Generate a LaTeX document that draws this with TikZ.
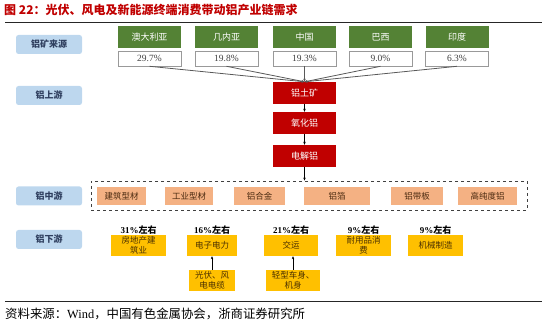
\documentclass[tikz,border=0pt]{standalone}
\usepackage{fontspec}
\setmainfont{Liberation Serif}
\newfontfamily\cjk{Noto Sans CJK SC}
\usetikzlibrary{arrows.meta}
\definecolor{mygreen}{HTML}{548235}
\definecolor{myred}{HTML}{C00000}
\definecolor{labblue}{HTML}{BDD7EE}
\definecolor{labtext}{HTML}{2F3F5F}
\definecolor{myorange}{HTML}{F4B183}
\definecolor{orgtext}{HTML}{4A2A10}
\definecolor{myyellow}{HTML}{FFC000}
\definecolor{yeltext}{HTML}{4A3000}
\definecolor{titlered}{HTML}{C00000}
\tikzset{
  lab/.style={fill=labblue, rounded corners=2.5pt, minimum width=66pt, minimum height=19pt, inner sep=0pt, text=labtext, font=\cjk\bfseries\fontsize{9}{10}\selectfont},
  gbox/.style={fill=mygreen, minimum width=63pt, minimum height=22pt, inner sep=0pt, text=white, font=\cjk\fontsize{9}{10}\selectfont},
  pbox/.style={draw=black!40, line width=0.6pt, fill=white, minimum width=63pt, minimum height=15pt, inner sep=0pt, text=black!75, font=\fontsize{9.5}{10}\selectfont},
  rbox/.style={fill=myred, minimum width=63pt, minimum height=22pt, inner sep=0pt, text=white, font=\cjk\fontsize{9}{10}\selectfont},
  obox/.style={fill=myorange, minimum height=18pt, inner sep=0pt, text=orgtext, font=\cjk\fontsize{8.5}{10}\selectfont},
  ybox/.style={fill=myyellow, minimum height=21pt, inner sep=0pt, align=center, text=yeltext, font=\cjk\fontsize{8.5}{10}\selectfont},
  pct/.style={inner sep=0pt, text=black, font=\bfseries\fontsize{9}{10}\selectfont},
  conn/.style={draw=black!65, line width=0.8pt, -{Stealth[length=3pt,width=2.5pt]}},
  arr/.style={draw=black, line width=0.6pt, -{Stealth[length=3pt,width=2.5pt]}},
  rule/.style={draw=black!85, line width=0.9pt}
}
\begin{document}
\begin{tikzpicture}[x=1pt,y=-1pt]
\useasboundingbox (0,0) rectangle (550,328);
% title
\node[anchor=west, inner sep=0pt, text=titlered, font=\cjk\bfseries\fontsize{12}{12}\selectfont] (title) at (4,10) {图\ 22：光伏、风电及新能源终端消费带动铝产业链需求};
\coordinate (hl) at (5,22); \coordinate (hr) at (542,22);
\draw[rule] (hl) -- (hr);
% left labels
\node[lab] (l1) at (49,44.5) {铝矿来源};
\node[lab] (l2) at (49,95.5) {铝上游};
\node[lab] (l3) at (49,196) {铝中游};
\node[lab] (l4) at (49,239.5) {铝下游};
% sources
\node[gbox] (g1) at (149.5,37) {澳大利亚};
\node[gbox] (g2) at (226.5,37) {几内亚};
\node[gbox] (g3) at (304.5,37) {中国};
\node[gbox] (g4) at (380.5,37) {巴西};
\node[gbox] (g5) at (457,37) {印度};
\node[pbox] (p1) at (149.5,58.5) {29.7\%};
\node[pbox] (p2) at (226.5,58.5) {19.8\%};
\node[pbox] (p3) at (304.5,58.5) {19.3\%};
\node[pbox] (p4) at (380.5,58.5) {9.0\%};
\node[pbox] (p5) at (457,58.5) {6.3\%};
% upstream
\node[rbox] (r1) at (304.5,93) {铝土矿};
\node[rbox] (r2) at (304.5,123) {氧化铝};
\node[rbox] (r3) at (304.5,156) {电解铝};
\draw[conn] (p1.south) -- (r1.north);
\draw[conn] (p2.south) -- (r1.north);
\draw[conn] (p3.south) -- (r1.north);
\draw[conn] (p4.south) -- (r1.north);
\draw[conn] (p5.south) -- (r1.north);
\draw[arr] (r1) -- (r2);
\draw[arr] (r2) -- (r3);
% midstream
\node[draw=black!75, dashed, line width=0.8pt, minimum width=436pt, minimum height=29pt, inner sep=0pt] (mid) at (309,195.5) {};
\draw[arr] (r3.south) -- (r3.south |- mid.north);
\node[obox, minimum width=49pt] (m1) at (121.5,196) {建筑型材};
\node[obox, minimum width=48pt] (m2) at (189,196) {工业型材};
\node[obox, minimum width=51pt] (m3) at (259.5,196) {铝合金};
\node[obox, minimum width=66pt] (m4) at (337,196) {铝箔};
\node[obox, minimum width=52pt] (m5) at (417,196) {铝带板};
\node[obox, minimum width=59pt] (m6) at (487.5,196) {高纯度铝};
% downstream
\node[ybox, minimum width=55pt] (d1) at (138.5,245.5) {房地产建\\筑业};
\node[ybox, minimum width=50pt] (d2) at (212,245.5) {电子电力};
\node[ybox, minimum width=54pt] (d3) at (291,245.5) {交运};
\node[ybox, minimum width=55pt] (d4) at (363.5,245.5) {耐用品消\\费};
\node[ybox, minimum width=55pt] (d5) at (435.5,245.5) {机械制造};
\node[pct] (t1) at (138.5,230) {31\%{\cjk\bfseries 左右}};
\node[pct] (t2) at (212,230) {16\%{\cjk\bfseries 左右}};
\node[pct] (t3) at (291,230) {21\%{\cjk\bfseries 左右}};
\node[pct] (t4) at (363.5,230) {9\%{\cjk\bfseries 左右}};
\node[pct] (t5) at (435.5,230) {9\%{\cjk\bfseries 左右}};
\node[ybox, minimum width=46pt] (e1) at (212,280.5) {光伏、风\\电电缆};
\node[ybox, minimum width=54pt] (e2) at (293,280.5) {轻型车身、\\机身};
\draw[arr] (e1) -- (e1 |- d2.south);
\draw[arr] (e2) -- (e2 |- d3.south);
% footer
\coordinate (fl) at (5,301); \coordinate (fr) at (542,301);
\draw[rule] (fl) -- (fr);
\node[anchor=west, inner sep=0pt, text=black, font=\fontsize{12.4}{13}\selectfont] (src) at (5,314) {{\cjk 资料来源：}Wind{\cjk ，中国有色金属协会，浙商证券研究所}};
\end{tikzpicture}
\end{document}
